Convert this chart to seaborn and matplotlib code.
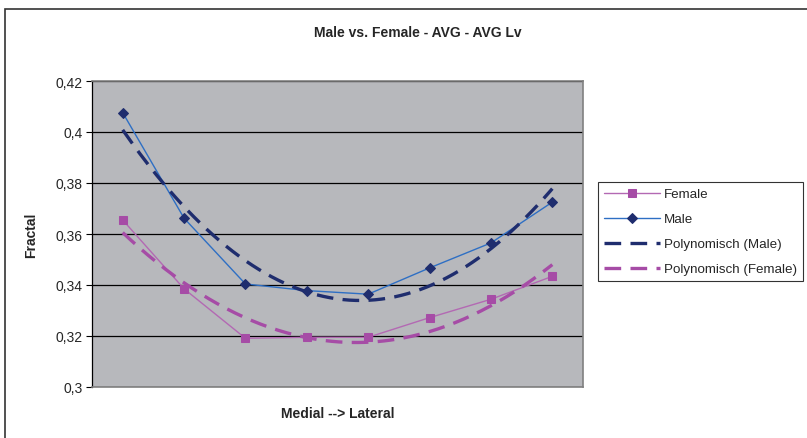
import numpy as np
import pandas as pd
import matplotlib
matplotlib.use("Agg")
import matplotlib.pyplot as plt
from matplotlib.patches import Rectangle
from matplotlib.ticker import FuncFormatter
import seaborn as sns

# Average fractal values from medial to lateral position
positions = [1, 2, 3, 4, 5, 6, 7, 8]
female = [0.3655, 0.3385, 0.3191, 0.3195, 0.3195, 0.3272, 0.3344, 0.3434]
male = [0.4076, 0.3662, 0.3404, 0.3378, 0.3364, 0.3467, 0.3565, 0.3725]
y_ticks = [0.30, 0.32, 0.34, 0.36, 0.38, 0.40, 0.42]

sns.set_theme(style="white")
plt.rcParams["font.family"] = ["Liberation Sans", "DejaVu Sans"]

fig = plt.figure(figsize=(8.07, 4.39), dpi=100)
fig.patch.set_facecolor("white")
ax = fig.add_axes([92 / 807, 1 - 388 / 439, (583 - 92) / 807, (388 - 82) / 439])
ax.set_facecolor("#b7b8bc")

df = pd.DataFrame({"pos": positions, "Female": female, "Male": male})

female_line = "#b369b3"
female_mark = "#a64ca6"
male_line = "#2e6fc4"
male_mark = "#1f2d6e"

sns.lineplot(data=df, x="pos", y="Female", ax=ax, color=female_line, lw=1.0,
             marker="s", markersize=6, markerfacecolor=female_mark,
             markeredgecolor=female_mark, label="Female")
sns.lineplot(data=df, x="pos", y="Male", ax=ax, color=male_line, lw=1.0,
             marker="D", markersize=5.5, markerfacecolor=male_mark,
             markeredgecolor=male_mark, label="Male")

# Second-order polynomial trendlines
xs = np.linspace(positions[0], positions[-1], 200)
cm = np.polyfit(positions, male, 2)
cf = np.polyfit(positions, female, 2)
trend = pd.DataFrame({"x": xs, "m": np.polyval(cm, xs), "f": np.polyval(cf, xs)})
sns.lineplot(data=trend, x="x", y="m", ax=ax, color="#1f2d6e", lw=2.4,
             label="Polynomisch (Male)", linestyle=(0, (5, 2.8)))
sns.lineplot(data=trend, x="x", y="f", ax=ax, color="#a64ca6", lw=2.4,
             label="Polynomisch (Female)", linestyle=(0, (5, 2.8)))


def comma_fmt(v, _pos):
    s = f"{v:.2f}"
    if s.endswith("0"):
        s = s[:-1]
    return s.replace(".", ",")


ax.set_xlim(0.5, 8.5)
ax.set_ylim(0.30, 0.42)
ax.set_yticks(y_ticks)
ax.yaxis.set_major_formatter(FuncFormatter(comma_fmt))
ax.set_xticks([])
ax.grid(axis="y", color="black", lw=0.9)
ax.set_axisbelow(True)
ax.tick_params(axis="y", direction="out", length=4, width=0.8, color="black",
               labelsize=10, pad=3, left=True)
for side in ["top", "right"]:
    ax.spines[side].set_color("#808080")
    ax.spines[side].set_linewidth(1.2)
ax.spines["left"].set_color("black")
ax.spines["left"].set_linewidth(0.9)
ax.spines["bottom"].set_color("#808080")
ax.spines["bottom"].set_linewidth(1.2)

ax.set_xlabel("Medial --> Lateral", fontsize=10, fontweight="bold", labelpad=14)
ax.set_ylabel("Fractal", fontsize=10, fontweight="bold", labelpad=12)
fig.text(418 / 807, 1 - 33 / 439, "Male vs. Female - AVG - AVG Lv", ha="center", va="center",
         fontsize=10, fontweight="bold")

leg = ax.legend(loc="upper left", bbox_to_anchor=(598 / 807, 1 - 183 / 439),
                bbox_transform=fig.transFigure, frameon=True, fancybox=False,
                fontsize=9.6, handlelength=4.2, handletextpad=0.3, borderpad=0.45,
                labelspacing=0.95, borderaxespad=0)
leg.get_frame().set_edgecolor("black")
leg.get_frame().set_linewidth(0.8)

# Chart area frame
fig.patches.append(Rectangle((5 / 807, -0.05), 1.1, 1 - 10 / 439 + 0.05, transform=fig.transFigure,
                             fill=False, edgecolor="#333333", lw=1.2))

fig.savefig("out.png", dpi=100, facecolor="white")
